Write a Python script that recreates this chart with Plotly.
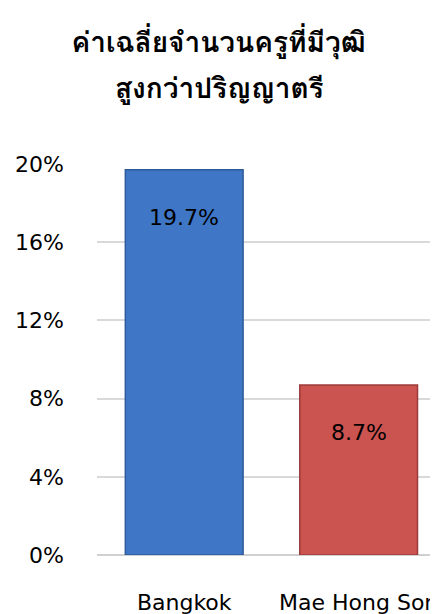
import plotly.graph_objects as go

categories = ["Bangkok", "Mae Hong Son"]
values = [19.7, 8.7]
bar_colors = ["#3f77c6", "#cb5350"]
edge_colors = ["#2d5a9a", "#9c3b39"]
tick_vals = [0, 4, 8, 12, 16, 20]
tick_text = ["0%", "4%", "8%", "12%", "16%", "20%"]
title_line1 = "ค่าเฉลี่ยจำนวนครูที่มีวุฒิ"
title_line2 = "สูงกว่าปริญญาตรี"

FONT = "'DejaVu Sans', sans-serif"
TFONT = "Tahoma, Loma, 'Noto Sans', sans-serif"

fig = go.Figure()
fig.add_trace(go.Bar(
    x=categories,
    y=values,
    marker=dict(color=bar_colors, line=dict(color=edge_colors, width=1.5)),
    width=0.675,
    hoverinfo="skip",
))

for c, v in zip(categories, values):
    fig.add_annotation(
        x=c, y=v, text=f"{v}%", showarrow=False,
        yshift=-48, font=dict(size=22, color="#000000", family=FONT),
    )

# second title line (kept separate to reproduce the wide line spacing)
fig.add_annotation(
    text=title_line2, xref="paper", yref="paper", x=0.358, y=1.194,
    xanchor="center", yanchor="middle", showarrow=False,
    font=dict(size=28, color="#000000", family=TFONT, weight="bold"),
)

# page body adds an 8px margin, so the figure is 8px smaller and shifted
fig.update_layout(
    width=430, height=606,
    margin=dict(l=89, r=0, t=156, b=59, autoexpand=False),
    paper_bgcolor="white", plot_bgcolor="white",
    showlegend=False,
    title=dict(
        text=title_line1, x=0.49, xanchor="center", xref="container",
        y=0.944, yanchor="middle", yref="container",
        font=dict(size=28, color="#000000", family=TFONT, weight="bold"),
    ),
    font=dict(family=FONT, color="#000000"),
)
fig.update_xaxes(
    range=[-0.5, 1.455], showgrid=False, showline=False, zeroline=False,
    ticks="", ticklabelstandoff=32, automargin=False,
    tickfont=dict(size=22, color="#000000", family=FONT),
)
fig.update_yaxes(
    range=[0, 20], tickvals=tick_vals, ticktext=tick_text,
    showgrid=True, gridcolor="#d9d9d9", gridwidth=2,
    zeroline=True, zerolinecolor="#d0d0d0", zerolinewidth=2,
    showline=False, ticks="", ticklabelstandoff=32, automargin=False,
    tickfont=dict(size=22, color="#000000", family=FONT),
)

fig.write_html("out.html")
